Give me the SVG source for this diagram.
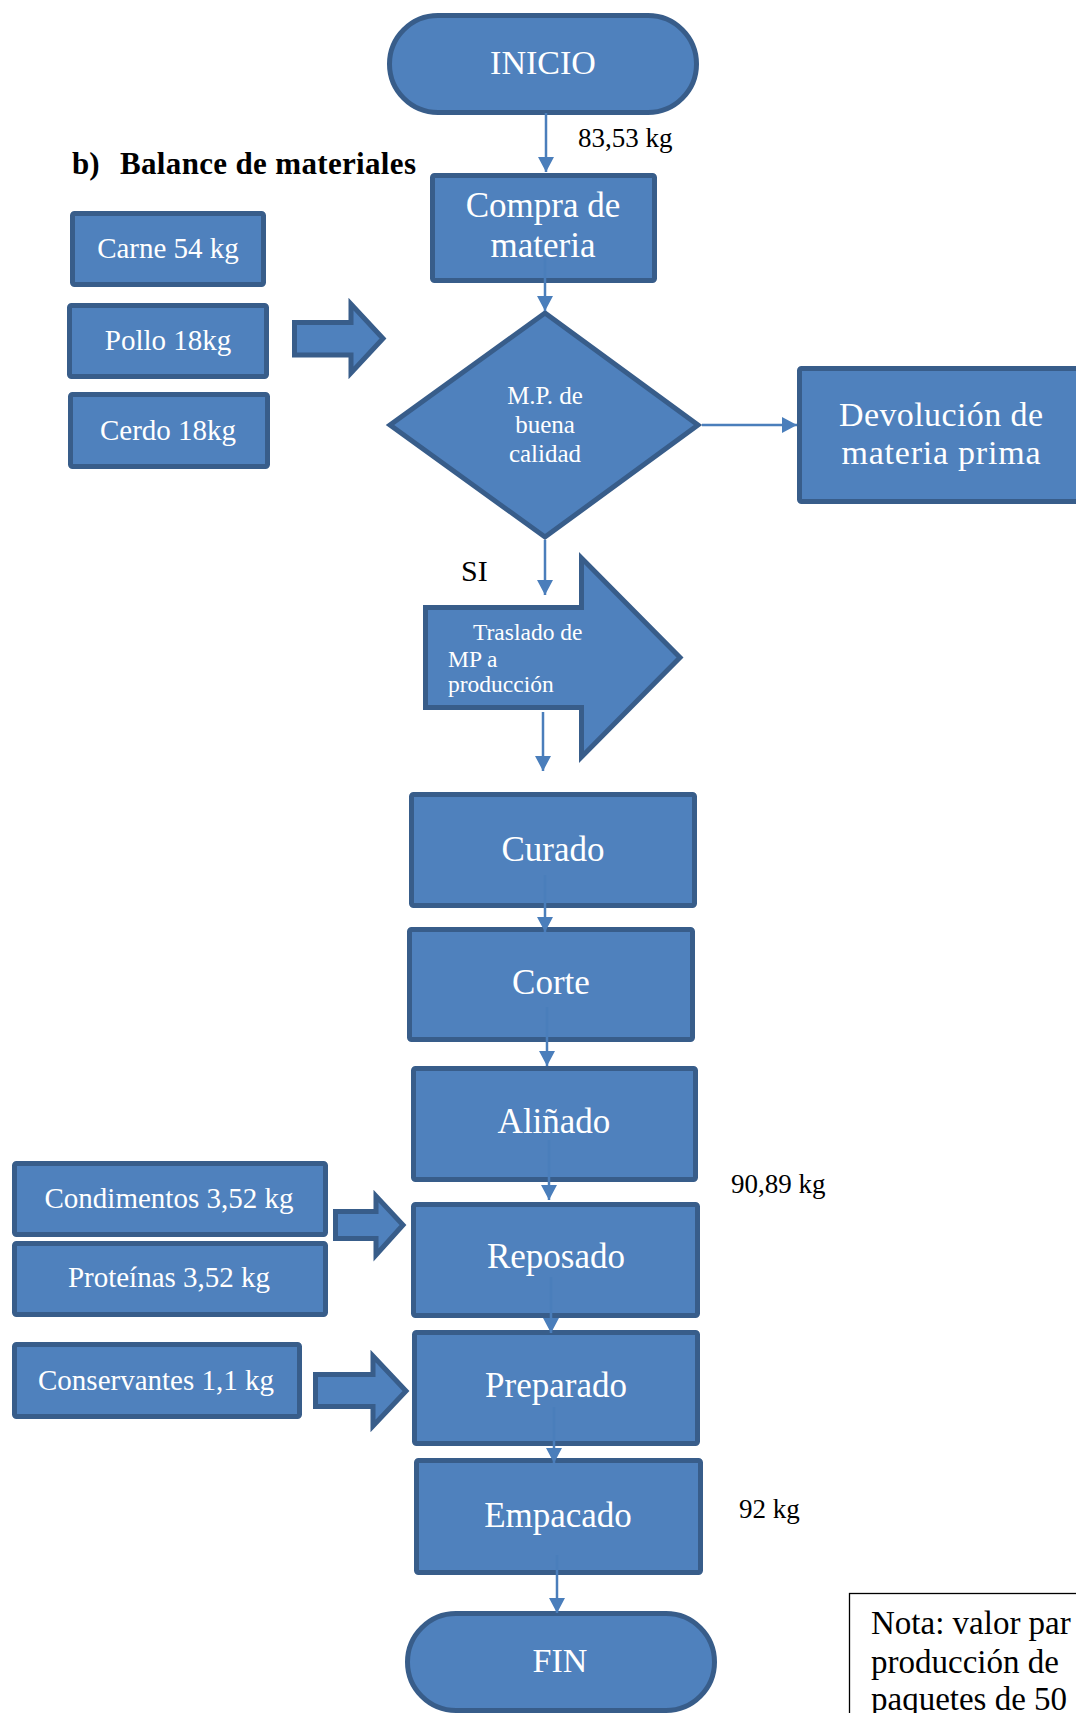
<svg xmlns="http://www.w3.org/2000/svg" width="1076" height="1713" viewBox="0 0 1076 1713">
<defs>
<style>
.box{fill:#4F81BD;stroke:#385D8A;stroke-width:5;stroke-linejoin:miter}
.lbl{font-family:"Liberation Serif","DejaVu Serif",serif;fill:#FFFFFF;text-anchor:middle}
.lbls{font-family:"Liberation Serif","DejaVu Serif",serif;fill:#FFFFFF;text-anchor:start}
.blk{font-family:"Liberation Serif","DejaVu Serif",serif;fill:#000000}
.conn{stroke:#4A7EBB;stroke-width:2.5;fill:none;marker-end:url(#ah)}
</style>
<marker id="ah" markerUnits="userSpaceOnUse" markerWidth="16" markerHeight="16" refX="15" refY="8" orient="auto">
<path d="M0,0 L15,8 L0,16 z" fill="#4A7EBB"/>
</marker>
</defs>
<rect width="1076" height="1713" fill="#FFFFFF"/>

<g id="title">
<text class="blk" x="72" y="174" font-size="31" font-weight="bold">b)</text>
<text class="blk" x="120" y="174" font-size="31" font-weight="bold" textLength="296">Balance de materiales</text>
</g>

<g id="inicio">
<rect class="box" x="389.5" y="15.5" width="307" height="97" rx="48.5"/>
<text class="lbl" x="543" y="74" font-size="34">INICIO</text>
</g>

<g id="lbl-8353"><text class="blk" x="578" y="147" font-size="27">83,53 kg</text></g>

<g id="compra">
<rect class="box" x="432.5" y="175.5" width="222" height="105" rx="2"/>
<text class="lbl" x="543" y="217" font-size="35">Compra de</text>
<text class="lbl" x="543" y="257" font-size="35">materia</text>
</g>

<g id="carne">
<rect class="box" x="72.5" y="213.5" width="191" height="71" rx="2"/>
<text class="lbl" x="168" y="258" font-size="29">Carne 54 kg</text>
</g>
<g id="pollo">
<rect class="box" x="69.5" y="305.5" width="197" height="71" rx="2"/>
<text class="lbl" x="168" y="350" font-size="29">Pollo 18kg</text>
</g>
<g id="cerdo">
<rect class="box" x="70.5" y="394.5" width="197" height="72" rx="2"/>
<text class="lbl" x="168" y="440" font-size="29">Cerdo 18kg</text>
</g>

<g id="flecha-entrada-1">
<path class="box" d="M294.5,322.5 L351,322.5 L351,304 L383,338.5 L351,373 L351,355 L294.5,355 Z"/>
</g>

<g id="decision">
<path class="box" d="M545,313 L698,425 L545,537 L390,425 Z"/>
<text class="lbl" x="545" y="404" font-size="25">M.P. de</text>
<text class="lbl" x="545" y="433" font-size="25">buena</text>
<text class="lbl" x="545" y="462" font-size="25">calidad</text>
</g>

<g id="devolucion">
<rect class="box" x="799.5" y="368.5" width="300" height="133" rx="2"/>
<text class="lbl" x="941" y="426" font-size="34" textLength="204">Devolución de</text>
<text class="lbl" x="941" y="464" font-size="34" textLength="199">materia prima</text>
</g>

<g id="lbl-si"><text class="blk" x="461" y="581" font-size="30">SI</text></g>

<g id="traslado">
<path class="box" d="M425.5,607.5 L581.5,607.5 L581.5,558 L680,657.5 L581.5,757 L581.5,707.5 L425.5,707.5 Z"/>
<text class="lbls" x="473" y="640" font-size="23.5">Traslado de</text>
<text class="lbls" x="448" y="667" font-size="23.5">MP a</text>
<text class="lbls" x="448" y="692" font-size="23.5">producción</text>
</g>

<g id="curado">
<rect class="box" x="411.5" y="794.5" width="283" height="111" rx="2"/>
<text class="lbl" x="553" y="861" font-size="35">Curado</text>
</g>
<g id="corte">
<rect class="box" x="409.5" y="929.5" width="283" height="110" rx="2"/>
<text class="lbl" x="551" y="994" font-size="35">Corte</text>
</g>
<g id="alinado">
<rect class="box" x="413.5" y="1068.5" width="282" height="111" rx="2"/>
<text class="lbl" x="554" y="1133" font-size="35">Aliñado</text>
</g>

<g id="lbl-9089"><text class="blk" x="731" y="1193" font-size="27">90,89 kg</text></g>

<g id="condimentos">
<rect class="box" x="14.5" y="1163.5" width="311" height="71" rx="2"/>
<text class="lbl" x="169" y="1208" font-size="29">Condimentos 3,52 kg</text>
</g>
<g id="proteinas">
<rect class="box" x="14.5" y="1243.5" width="311" height="71" rx="2"/>
<text class="lbl" x="169" y="1287" font-size="29">Proteínas 3,52 kg</text>
</g>
<g id="flecha-entrada-2">
<path class="box" d="M335.5,1211.5 L376,1211.5 L376,1196 L403,1225 L376,1255 L376,1238.5 L335.5,1238.5 Z"/>
</g>

<g id="reposado">
<rect class="box" x="413.5" y="1204.5" width="284" height="111" rx="2"/>
<text class="lbl" x="556" y="1268" font-size="35">Reposado</text>
</g>

<g id="conservantes">
<rect class="box" x="14.5" y="1344.5" width="285" height="72" rx="2"/>
<text class="lbl" x="156" y="1390" font-size="29">Conservantes 1,1 kg</text>
</g>
<g id="flecha-entrada-3">
<path class="box" d="M315.5,1374.5 L373,1374.5 L373,1356 L406,1391 L373,1426 L373,1406.5 L315.5,1406.5 Z"/>
</g>

<g id="preparado">
<rect class="box" x="414.5" y="1332.5" width="283" height="111" rx="2"/>
<text class="lbl" x="556" y="1397" font-size="35">Preparado</text>
</g>

<g id="empacado">
<rect class="box" x="416.5" y="1460.5" width="284" height="112" rx="2"/>
<text class="lbl" x="558" y="1527" font-size="35">Empacado</text>
</g>

<g id="lbl-92"><text class="blk" x="739" y="1518" font-size="27">92 kg</text></g>

<g id="fin">
<rect class="box" x="407.5" y="1613.5" width="307" height="97" rx="48.5"/>
<text class="lbl" x="560" y="1672" font-size="34">FIN</text>
</g>

<g id="nota">
<rect x="849.5" y="1593.5" width="260" height="160" fill="none" stroke="#000000" stroke-width="1.3"/>
<text class="blk" x="871" y="1634" font-size="33">Nota: valor par</text>
<text class="blk" x="871" y="1673" font-size="33">producción de</text>
<text class="blk" x="871" y="1710" font-size="33">paquetes de 50</text>
</g>

<g id="connectors">
<line class="conn" x1="546" y1="113" x2="546" y2="172"/>
<line class="conn" x1="545" y1="258" x2="545" y2="311"/>
<line class="conn" x1="702" y1="425" x2="797" y2="425"/>
<line class="conn" x1="545" y1="540" x2="545" y2="595"/>
<line class="conn" x1="543" y1="712" x2="543" y2="771"/>
<line class="conn" x1="545" y1="875" x2="545" y2="932"/>
<line class="conn" x1="547" y1="1007" x2="547" y2="1066"/>
<line class="conn" x1="549" y1="1140" x2="549" y2="1200"/>
<line class="conn" x1="551" y1="1277" x2="551" y2="1333"/>
<line class="conn" x1="554" y1="1407" x2="554" y2="1463"/>
<line class="conn" x1="557" y1="1555" x2="557" y2="1613"/>
</g>
</svg>
